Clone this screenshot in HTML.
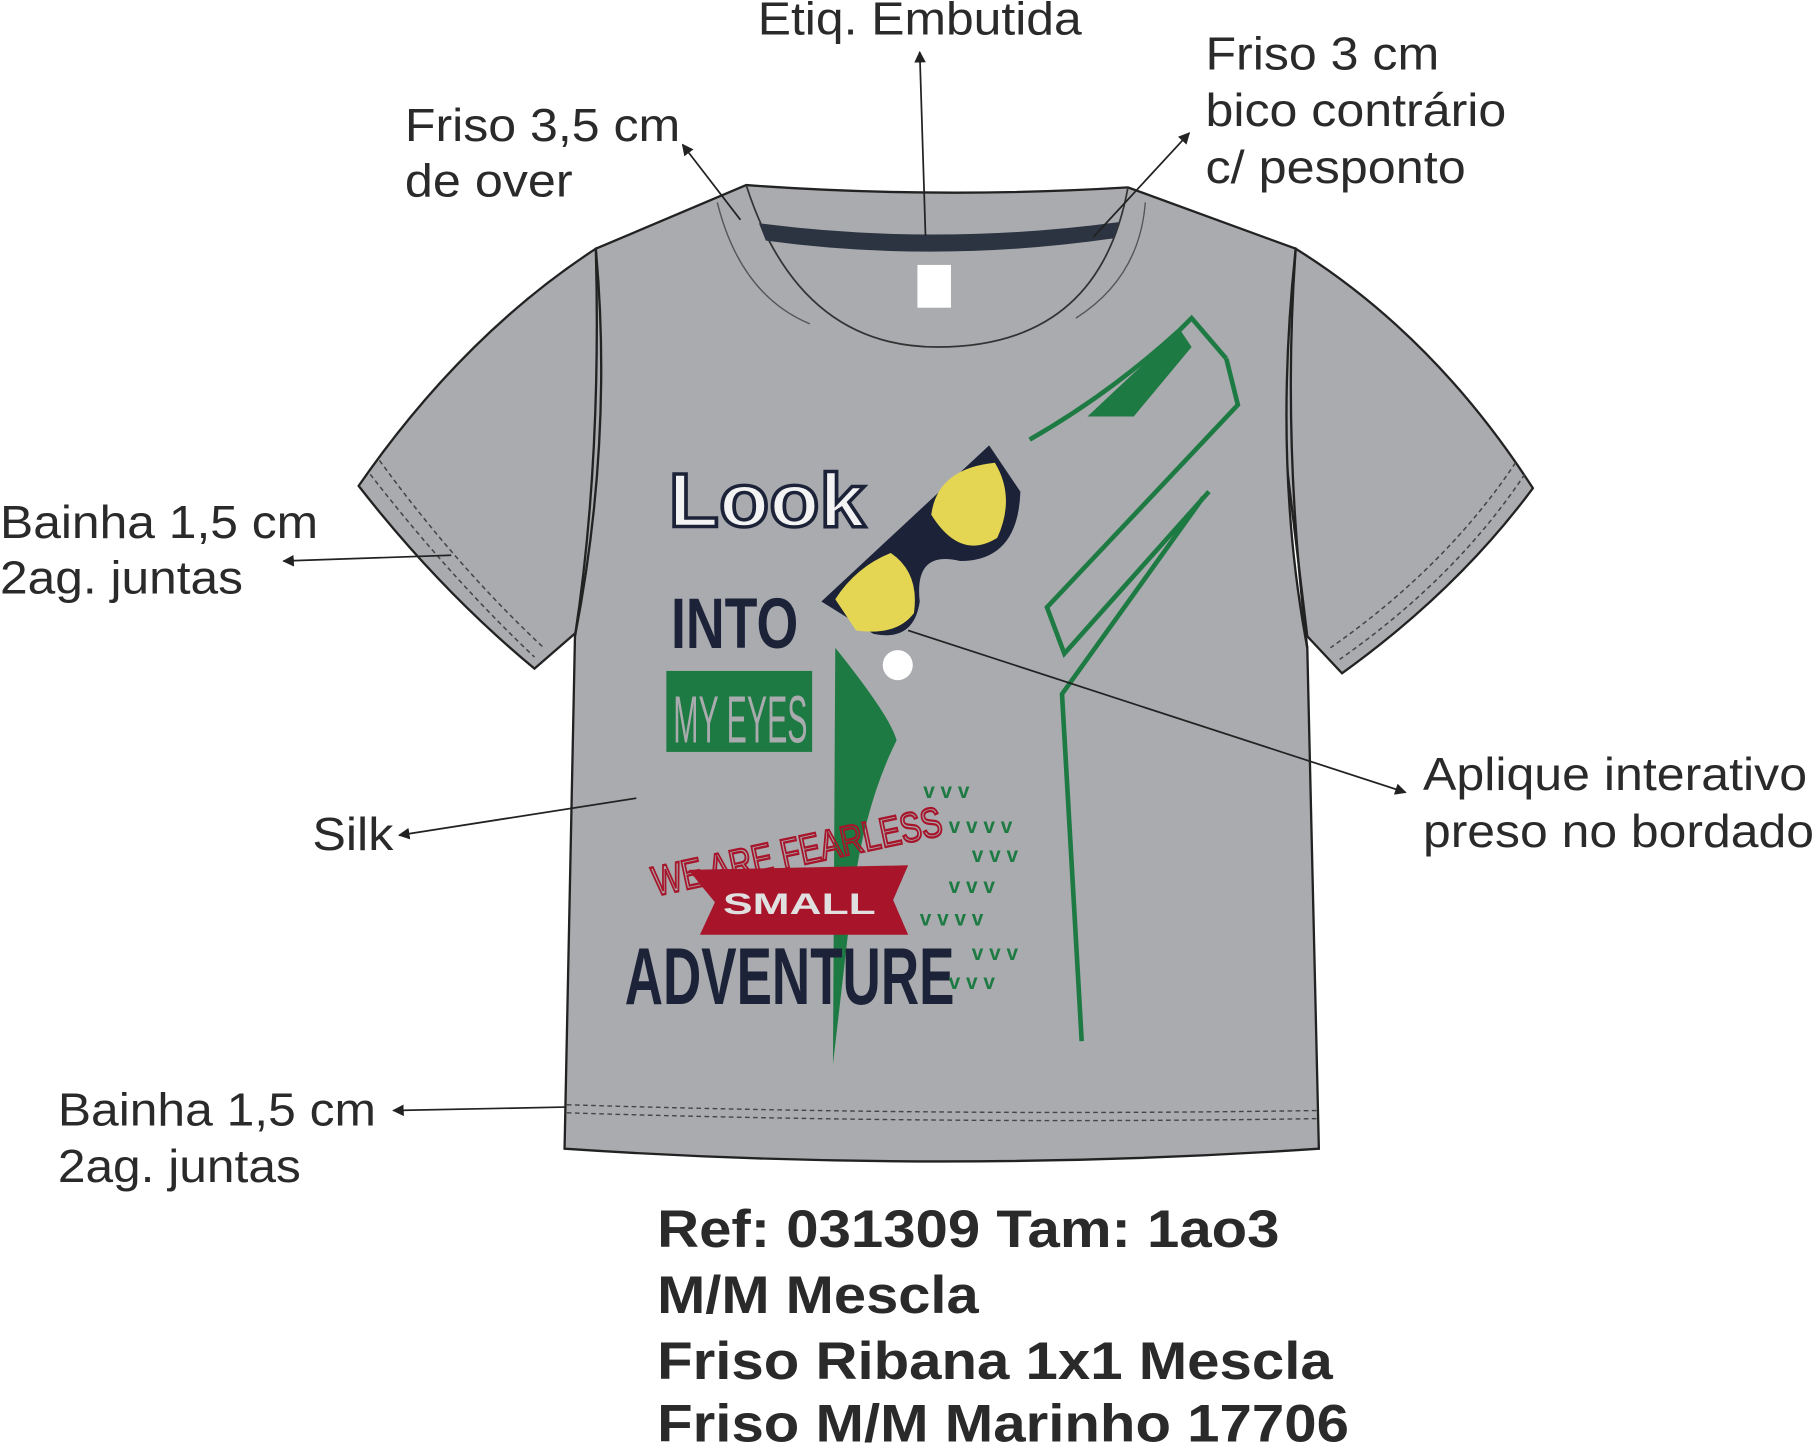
<!DOCTYPE html>
<html><head><meta charset="utf-8"><style>
html,body{margin:0;padding:0;background:#fff;}
svg{display:block;}
text{font-family:"Liberation Sans",sans-serif;}
</style></head><body>
<svg width="1814" height="1446" viewBox="0 0 1568 1250" preserveAspectRatio="none" xmlns="http://www.w3.org/2000/svg">
<defs>
<marker id="ah" markerWidth="10" markerHeight="10" refX="9" refY="5" orient="auto" markerUnits="userSpaceOnUse">
<path d="M0,0 L10,5 L0,10 z" fill="#222"/>
</marker>
</defs>
<!-- sleeves -->
<path d="M515,215 Q400,290 310,420 Q380,510 462,578 L500,545 L540,300 Z" fill="#a9abae" stroke="#222" stroke-width="2"/>
<path d="M1120,215 Q1240,290 1325,422 Q1260,510 1160,582 L1130,550 L1100,300 Z" fill="#a9abae" stroke="#222" stroke-width="2"/>
<path d="M328,398 Q395,490 470,560 M320,410 Q390,500 462,568" fill="none" stroke="#444" stroke-width="1.3" stroke-dasharray="4,3"/>
<path d="M1310,400 Q1250,490 1150,560 M1318,410 Q1258,500 1158,570" fill="none" stroke="#444" stroke-width="1.3" stroke-dasharray="4,3"/>
<!-- body -->
<path d="M515,215 L645,160 Q810,172 975,162 L1120,215 Q1100,400 1130,560 L1140,993 Q815,1015 488,993 L497,550 Q520,400 515,215 Z" fill="#a9abae" stroke="#222" stroke-width="2"/>
<path d="M515,215 Q530,380 497,550 M1120,215 Q1108,380 1130,560" fill="none" stroke="#222" stroke-width="2"/>
<path d="M645,160 Q690,300 810,300 Q950,300 975,162" fill="none" stroke="#333" stroke-width="1.5"/>
<path d="M620,175 Q640,255 700,280 M990,175 Q985,240 930,275" fill="none" stroke="#555" stroke-width="1.2"/>
<path d="M656,193 Q810,213 967,192 L963,206 Q810,228 662,208 Z" fill="#2c3442"/>
<rect x="793" y="229" width="29" height="37" fill="#fff"/>
<path d="M490,955 Q815,965 1138,960 M490,962 Q815,972 1138,967" fill="none" stroke="#444" stroke-width="1.2" stroke-dasharray="4,3"/>
<!-- graphics -->
<path d="M722,560 Q770,620 775,640 Q745,700 735,790 L720,920 Z" fill="#1e7a43"/>
<path d="M890,380 Q960,340 1020,285 L1030,275 L1060,310 M1040,430 L918,600 L935,900" fill="none" stroke="#1e7a43" stroke-width="4"/>
<path d="M1060,310 L1070,350 L905,525 L920,565 L1045,425" fill="none" stroke="#1e7a43" stroke-width="4"/>
<g fill="#1e7a43"><path d="M1020,285 L1030,300 L980,360 L940,360 Z"/></g>
<path d="M710,520 L855,385 L882,425 Q880,485 830,485 Q790,475 795,520 Q790,555 755,548 Z" fill="#1c2238"/>
<path d="M805,445 Q810,405 860,400 Q878,430 862,465 Q830,485 805,445 Z" fill="#e4d653"/>
<path d="M722,518 Q740,490 770,478 Q795,495 790,530 Q775,550 740,545 Z" fill="#e4d653"/>
<circle cx="776" cy="575" r="13" fill="#fff"/>
<text x="578" y="455" font-size="66" font-weight="bold" fill="#f3f3f3" stroke="#1c2238" stroke-width="3" textLength="170" lengthAdjust="spacingAndGlyphs">Look</text>
<text x="580" y="560" font-size="62" font-weight="bold" fill="#1c2238" textLength="110" lengthAdjust="spacingAndGlyphs">INTO</text>
<rect x="576" y="580" width="126" height="70" fill="#1e7a43"/>
<text x="582" y="642" font-size="58" fill="#a9abae" textLength="116" lengthAdjust="spacingAndGlyphs">MY EYES</text>
<text x="560" y="750" font-size="36" fill="none" stroke="#a8142a" stroke-width="2" transform="rotate(-12 680 730)" textLength="255" lengthAdjust="spacingAndGlyphs">WE ARE FEARLESS</text>
<path d="M595,752 L785,748 L772,778 L785,808 L605,808 L618,780 Z" fill="#a8142a"/>
<text x="625" y="790" font-size="26" font-weight="bold" fill="#e0e0e0" textLength="132" lengthAdjust="spacingAndGlyphs">SMALL</text>
<text x="540" y="868" font-size="70" font-weight="bold" fill="#1c2238" textLength="285" lengthAdjust="spacingAndGlyphs">ADVENTURE</text>
<g font-size="18" fill="#1e7a43" font-weight="bold">
<text x="798" y="690">v v v</text><text x="820" y="720">v v v v</text><text x="840" y="745">v v v</text><text x="820" y="772">v v v</text><text x="795" y="800">v v v v</text><text x="840" y="830">v v v</text><text x="820" y="855">v v v</text>
</g>
<!-- leader lines -->
<g stroke="#222" stroke-width="1.5" fill="none" marker-end="url(#ah)">
<line x1="800" y1="204" x2="795" y2="45"/>
<line x1="640" y1="190" x2="590" y2="125"/>
<line x1="945" y1="205" x2="1028" y2="115"/>
<line x1="390" y1="480" x2="245" y2="485"/>
<line x1="785" y1="545" x2="1215" y2="685"/>
<line x1="550" y1="690" x2="345" y2="722"/>
<line x1="488" y1="957" x2="340" y2="960"/>
</g>
<g font-size="40" fill="#2a2a2a">
<text x="655" y="30" textLength="280" lengthAdjust="spacingAndGlyphs">Etiq. Embutida</text>
<text x="350" y="122" textLength="238" lengthAdjust="spacingAndGlyphs">Friso 3,5 cm</text>
<text x="350" y="170" textLength="145" lengthAdjust="spacingAndGlyphs">de over</text>
<text x="1042" y="60" textLength="202" lengthAdjust="spacingAndGlyphs">Friso 3 cm</text>
<text x="1042" y="109" textLength="260" lengthAdjust="spacingAndGlyphs">bico contrário</text>
<text x="1042" y="158" textLength="225" lengthAdjust="spacingAndGlyphs">c/ pesponto</text>
<text x="0" y="465" textLength="275" lengthAdjust="spacingAndGlyphs">Bainha 1,5 cm</text>
<text x="0" y="513" textLength="210" lengthAdjust="spacingAndGlyphs">2ag. juntas</text>
<text x="1230" y="683" textLength="332" lengthAdjust="spacingAndGlyphs">Aplique interativo</text>
<text x="1230" y="732" textLength="338" lengthAdjust="spacingAndGlyphs">preso no bordado</text>
<text x="270" y="735" textLength="70" lengthAdjust="spacingAndGlyphs">Silk</text>
<text x="50" y="973" textLength="275" lengthAdjust="spacingAndGlyphs">Bainha 1,5 cm</text>
<text x="50" y="1022" textLength="210" lengthAdjust="spacingAndGlyphs">2ag. juntas</text>
</g>
<g font-size="46" font-weight="bold" fill="#2a2a2a">
<text x="568" y="1078" textLength="538" lengthAdjust="spacingAndGlyphs">Ref: 031309 Tam: 1ao3</text>
<text x="568" y="1135" textLength="278" lengthAdjust="spacingAndGlyphs">M/M Mescla</text>
<text x="568" y="1192" textLength="584" lengthAdjust="spacingAndGlyphs">Friso Ribana 1x1 Mescla</text>
<text x="568" y="1246" textLength="598" lengthAdjust="spacingAndGlyphs">Friso M/M Marinho 17706</text>
</g>
</svg>
</body></html>
